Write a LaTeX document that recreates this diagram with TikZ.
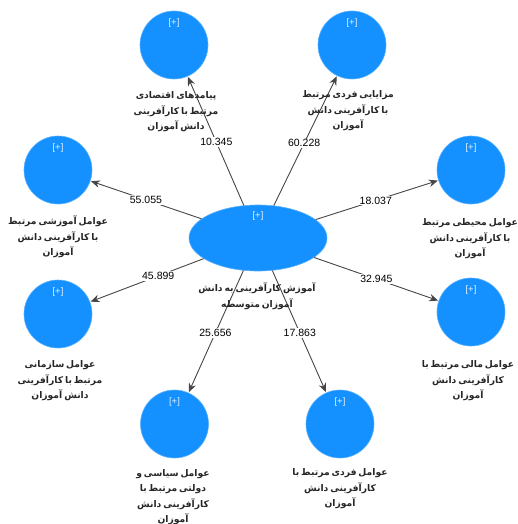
\documentclass[tikz,border=0pt]{standalone}
\usepackage{fontspec}
\setmainfont{Liberation Sans}
\newfontfamily\arabicfont[Script=Arabic,WordSpace=0.6]{DejaVu Sans}
\TeXXeTstate=1
\usetikzlibrary{shapes.geometric,arrows.meta}
\newcommand{\pers}[1]{{\arabicfont\bfseries\beginR #1\endR}}
\definecolor{lvblue}{RGB}{20,144,255}
\definecolor{linegray}{RGB}{70,70,70}
\tikzset{
  lv/.style={circle,fill=lvblue,draw=lvblue!70!white,line width=0.6pt,minimum size=68pt,inner sep=0pt},
  lvmain/.style={ellipse,fill=lvblue,draw=lvblue!70!white,line width=0.6pt,minimum width=138pt,minimum height=66pt,inner sep=0pt},
  plus/.style={text=white!88!lvblue,font=\fontsize{9.5}{10}\selectfont,inner sep=0pt},
  caption/.style={align=center,font=\fontsize{9.2}{15.5}\selectfont,inner sep=0pt,text=black!85},
  path/.style={draw=linegray,line width=0.9pt,-{Stealth[length=9pt,width=7.5pt]},shorten >=0.5pt},
  coef/.style={fill=white,inner sep=1pt,font=\fontsize{10.5}{12}\selectfont,text=black},
}
\begin{document}
\begin{tikzpicture}[x=1pt,y=-1pt]
\useasboundingbox (0,0) rectangle (518,524);
% latent variables
\node[lvmain] (E) at (258,238) {};
\node[lv] (TL) at (174,45) {};
\node[lv] (TR) at (352,45) {};
\node[lv] (L)  at (58,170) {};
\node[lv] (R)  at (471,170) {};
\node[lv] (LL) at (58,314) {};
\node[lv] (RL) at (471,312) {};
\node[lv] (BL) at (174.5,424) {};
\node[lv] (BR) at (340,424) {};
% [+] markers
\node[plus] (pE)  at ([yshift=22pt]E.center) {[+]};
\node[plus] (pTL) at ([yshift=22pt]TL.center) {[+]};
\node[plus] (pTR) at ([yshift=22pt]TR.center) {[+]};
\node[plus] (pL)  at ([yshift=22pt]L.center) {[+]};
\node[plus] (pR)  at ([yshift=22pt]R.center) {[+]};
\node[plus] (pLL) at ([yshift=22pt]LL.center) {[+]};
\node[plus] (pRL) at ([yshift=22pt]RL.center) {[+]};
\node[plus] (pBL) at ([yshift=22pt]BL.center) {[+]};
\node[plus] (pBR) at ([yshift=22pt]BR.center) {[+]};
% paths
\draw[path] (E) -- node[coef,pos=0.49] (c1) {10.345} (TL);
\draw[path] (E) -- node[coef,pos=0.48] (c2) {60.228} (TR);
\draw[path] (E) -- node[coef,pos=0.50] (c3) {55.055} (L);
\draw[path] (E) -- node[coef,pos=0.40] (c5) {45.899} (LL);
\draw[path] (E) -- node[coef,pos=0.49] (c4) {18.037} (R);
\draw[path] (E) -- node[coef,pos=0.50] (c6) {32.945} (RL);
\draw[path] (E) -- node[coef,pos=0.51] (c7) {25.656} (BL);
\draw[path] (E) -- node[coef,pos=0.51] (c8) {17.863} (BR);
% captions
\node[caption] (tE)  at (257,296) {\pers{آموزش کارآفرینی به دانش}\\\pers{آموزان متوسطه}};
\node[caption] (tTL) at (176,112) {\pers{پیامدهای اقتصادی}\\\pers{مرتبط با کارآفرینی}\\\pers{دانش آموزان}};
\node[caption] (tTR) at (348,111) {\pers{مزایایی فردی مرتبط}\\\pers{با کارآفرینی دانش}\\\pers{آموزان}};
\node[caption] (tL)  at (58,237) {\pers{عوامل آموزشی مرتبط}\\\pers{با کارآفرینی دانش}\\\pers{آموزان}};
\node[caption] (tR)  at (470,239) {\pers{عوامل محیطی مرتبط}\\\pers{با کارآفرینی دانش}\\\pers{آموزان}};
\node[caption] (tLL) at (60,381) {\pers{عوامل سازمانی}\\\pers{مرتبط با کارآفرینی}\\\pers{دانش آموزان}};
\node[caption] (tRL) at (468,381) {\pers{عوامل مالی مرتبط با}\\\pers{کارآفرینی دانش}\\\pers{آموزان}};
\node[caption] (tBL) at (173,497) {\pers{عوامل سیاسی و}\\\pers{دولتی مرتبط با}\\\pers{کارآفرینی دانش}\\\pers{آموزان}};
\node[caption] (tBR) at (340,489) {\pers{عوامل فردی مرتبط با}\\\pers{کارآفرینی دانش}\\\pers{آموزان}};
\end{tikzpicture}
\end{document}
